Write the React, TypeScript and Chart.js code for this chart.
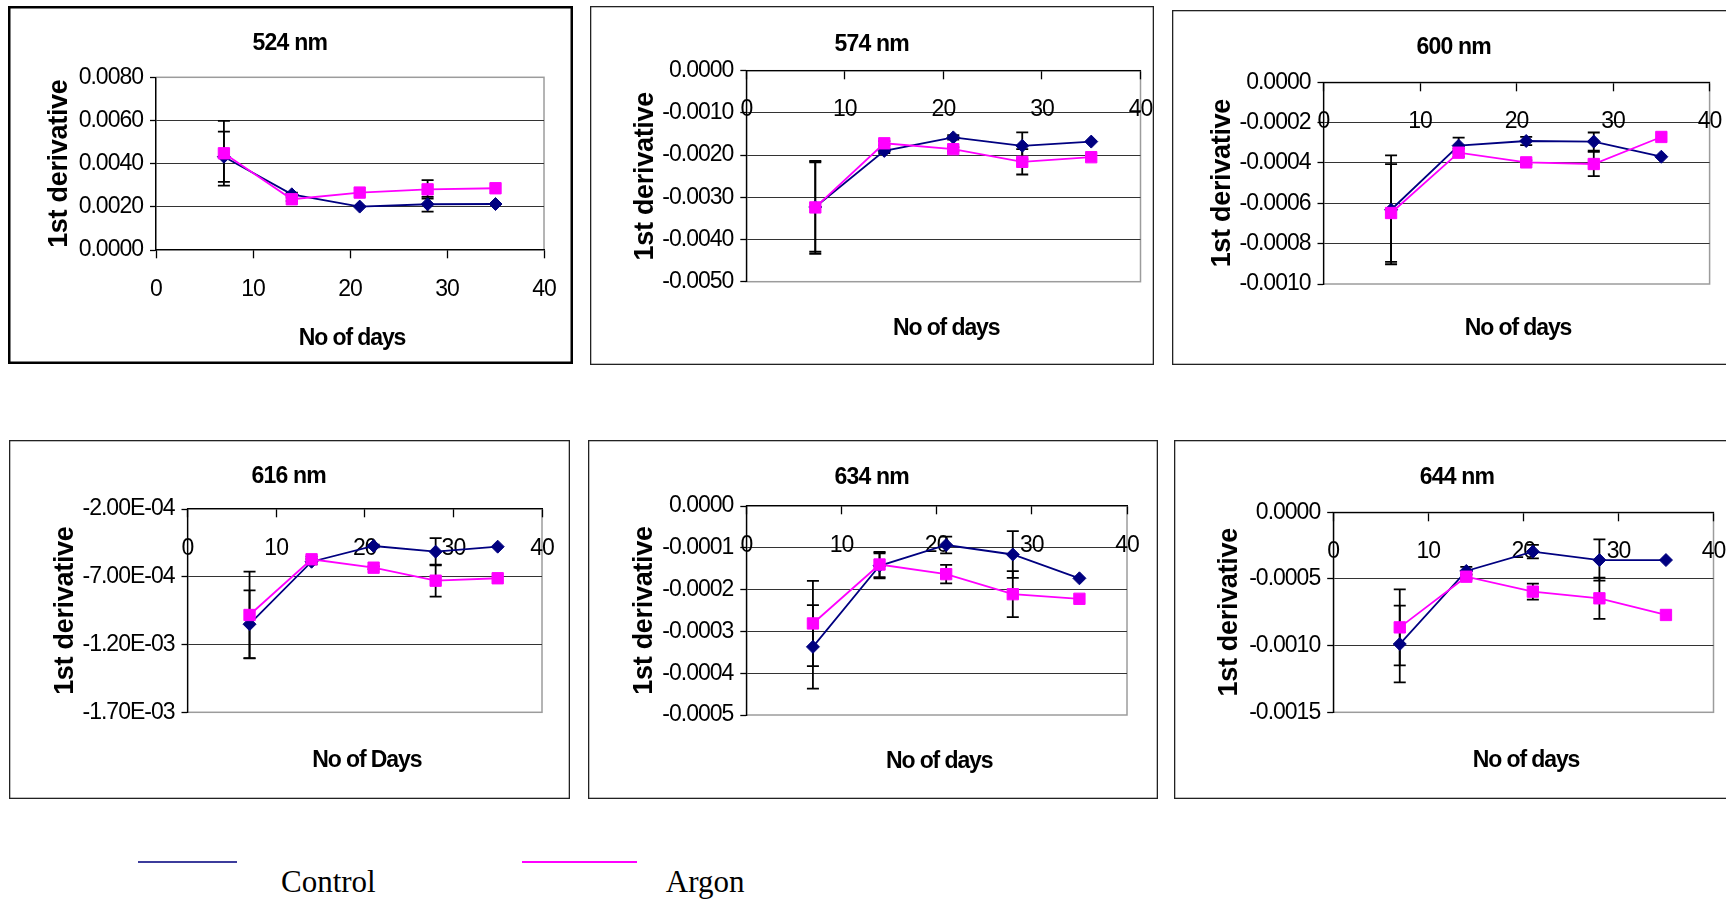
import React, { useEffect, useRef } from "react";
import { Chart, registerables } from "chart.js";

Chart.register(...registerables);

// ---------------- DATA ----------------
const days = [7, 14, 21, 28, 35];
const dayTicks = [0, 10, 20, 30, 40];
const seriesNames = ["Control", "Argon"];
const yAxisTitle = "1st derivative";

// 524 nm
const control524 = [0.00432, 0.00258, 0.00201, 0.00212, 0.00213];
const argon524 = [0.00448, 0.00235, 0.00266, 0.00281, 0.00286];
const controlErr524 = [0.00116, 0.00008, 0, 0.00034, 0];
const argonErr524 = [0.0015, 0.00008, 0, 0.00043, 0];
const yTicks524 = [0, 0.002, 0.004, 0.006, 0.008];

// 574 nm
const control574 = [-0.00323, -0.0019, -0.00158, -0.00178, -0.00168];
const argon574 = [-0.00324, -0.00172, -0.00186, -0.00216, -0.00205];
const controlErr574 = [0.00106, 0.00005, 0.00005, 0.00032, 0];
const argonErr574 = [0.0011, 0.00005, 0.00005, 0.0003, 0];
const yTicks574 = [-0.005, -0.004, -0.003, -0.002, -0.001, 0];

// 600 nm
const control600 = [-0.000632, -0.000314, -0.000291, -0.000294, -0.000369];
const argon600 = [-0.000648, -0.000349, -0.000397, -0.000405, -0.000271];
const controlErr600 = [0.00027, 0.00004, 0.00002, 0.000045, 0];
const argonErr600 = [0.000242, 0.00002, 0.00001, 0.00006, 0];
const yTicks600 = [-0.001, -0.0008, -0.0006, -0.0004, -0.0002, 0];

// 616 nm
const control616 = [-0.00105, -0.000589, -0.000473, -0.000515, -0.000478];
const argon616 = [-0.000982, -0.000571, -0.000633, -0.000729, -0.000711];
const controlErr616 = [0.00025, 0.00002, 0.00001, 0.0001, 0];
const argonErr616 = [0.00032, 0.00002, 0.00001, 0.000118, 0];
const yTicks616 = [-0.0017, -0.0012, -0.0007, -0.0002];

// 634 nm
const control634 = [-0.000337, -0.000143, -0.0000933, -0.000116, -0.000173];
const argon634 = [-0.000281, -0.00014, -0.000163, -0.000211, -0.000222];
const controlErr634 = [0.0001, 0.00003, 0.00002, 0.000056, 0];
const argonErr634 = [0.000102, 0.00003, 0.000022, 0.000055, 0];
const yTicks634 = [-0.0005, -0.0004, -0.0003, -0.0002, -0.0001, 0];

// 644 nm
const control644 = [-0.000988, -0.00044, -0.000295, -0.000358, -0.000358];
const argon644 = [-0.000863, -0.000483, -0.000595, -0.000645, -0.00077];
const controlErr644 = [0.000288, 0.00003, 0.00005, 0.000155, 0];
const argonErr644 = [0.000285, 0.00002, 0.00006, 0.000155, 0];
const yTicks644 = [-0.0015, -0.001, -0.0005, 0];

// ---------------- STYLE / LAYOUT ----------------
const NAVY = "#000080";
const MAGENTA = "#ff00ff";
const SANS = '"Liberation Sans", Arial, sans-serif';
const SERIF = '"Liberation Serif", "Times New Roman", serif';
const TICK_SIZE = 23;
const Y_TITLE_SIZE = 27;

type Box = { l: number; t: number; r: number; b: number };
type Panel = {
  key: string;
  title: string;
  xTitle: string;
  control: number[];
  argon: number[];
  controlErr: number[];
  argonErr: number[];
  yTicks: number[];
  fmt: "fixed" | "exp";
  box: Box;
  plot: Box;
  frameWidth: number;
  frameColor: string;
  titleX: number;
  titleBase: number;
  titleClip: number;
  xTitleCx: number;
  xTitleBase: number;
  yTitleCx: number;
};

const panels: Panel[] = [
  {
    key: "524", title: "524 nm", xTitle: "No of days",
    control: control524, argon: argon524, controlErr: controlErr524, argonErr: argonErr524,
    yTicks: yTicks524, fmt: "fixed",
    box: { l: 8, t: 6, r: 573, b: 364 }, plot: { l: 156, t: 77.3, r: 544, b: 250 },
    frameWidth: 2.5, frameColor: "#000",
    titleX: 252.6, titleBase: 50, titleClip: 333,
    xTitleCx: 352, xTitleBase: 345, yTitleCx: 59.2,
  },
  {
    key: "574", title: "574 nm", xTitle: "No of days",
    control: control574, argon: argon574, controlErr: controlErr574, argonErr: argonErr574,
    yTicks: yTicks574, fmt: "fixed",
    box: { l: 590, t: 6, r: 1154, b: 365 }, plot: { l: 746.3, t: 70.7, r: 1140.5, b: 281.7 },
    frameWidth: 1.3, frameColor: "#222",
    titleX: 834.4, titleBase: 50.7, titleClip: 915,
    xTitleCx: 946.2, xTitleBase: 335, yTitleCx: 645.5,
  },
  {
    key: "600", title: "600 nm", xTitle: "No of days",
    control: control600, argon: argon600, controlErr: controlErr600, argonErr: argonErr600,
    yTicks: yTicks600, fmt: "fixed",
    box: { l: 1172, t: 10, r: 1745, b: 365 }, plot: { l: 1323.5, t: 82.3, r: 1709.6, b: 284 },
    frameWidth: 1.3, frameColor: "#222",
    titleX: 1416.5, titleBase: 54, titleClip: 1499.5,
    xTitleCx: 1518, xTitleBase: 335, yTitleCx: 1222.6,
  },
  {
    key: "616", title: "616 nm", xTitle: "No of Days",
    control: control616, argon: argon616, controlErr: controlErr616, argonErr: argonErr616,
    yTicks: yTicks616, fmt: "exp",
    box: { l: 9, t: 440, r: 570, b: 799 }, plot: { l: 187.5, t: 509, r: 542, b: 712.3 },
    frameWidth: 1.3, frameColor: "#222",
    titleX: 251.5, titleBase: 483.3, titleClip: 331.8,
    xTitleCx: 366.8, xTitleBase: 766.7, yTitleCx: 65.5,
  },
  {
    key: "634", title: "634 nm", xTitle: "No of days",
    control: control634, argon: argon634, controlErr: controlErr634, argonErr: argonErr634,
    yTicks: yTicks634, fmt: "fixed",
    box: { l: 588, t: 440, r: 1158, b: 799 }, plot: { l: 746.3, t: 506, r: 1127, b: 715 },
    frameWidth: 1.3, frameColor: "#222",
    titleX: 834.4, titleBase: 484, titleClip: 916,
    xTitleCx: 939.2, xTitleBase: 768.3, yTitleCx: 644.8,
  },
  {
    key: "644", title: "644 nm", xTitle: "No of days",
    control: control644, argon: argon644, controlErr: controlErr644, argonErr: argonErr644,
    yTicks: yTicks644, fmt: "fixed",
    box: { l: 1174, t: 440, r: 1745, b: 799 }, plot: { l: 1333.2, t: 512.3, r: 1713.5, b: 712.3 },
    frameWidth: 1.3, frameColor: "#222",
    titleX: 1419.7, titleBase: 484, titleClip: 1502,
    xTitleCx: 1526, xTitleBase: 766.7, yTitleCx: 1229.4,
  },
];

function fmtTick(v: number, fmt: "fixed" | "exp"): string {
  if (Math.abs(v) < 1e-12) v = 0;
  if (fmt === "fixed") return v.toFixed(4);
  const [m, e] = v.toExponential(2).split("e");
  const n = parseInt(e, 10);
  return m + "E" + (n < 0 ? "-" : "+") + String(Math.abs(n)).padStart(2, "0");
}

function makePlugin(p: Panel) {
  return {
    id: "frame" + p.key,
    beforeDraw(chart: any) {
      const ctx = chart.ctx;
      const a = chart.chartArea;
      // condensed look of the tick labels
      ctx.letterSpacing = "-1px";
      ctx.save();
      ctx.strokeStyle = "#9c9c9c";
      ctx.lineWidth = 1.5;
      ctx.strokeRect(a.left, a.top, a.right - a.left, a.bottom - a.top);
      ctx.restore();
    },
    beforeDatasetsDraw(chart: any) {
      const ctx = chart.ctx;
      const xs = chart.scales.x;
      const ys = chart.scales.y;
      ctx.save();
      ctx.strokeStyle = "#000";
      ctx.lineWidth = 1.8;
      const groups: [number[], number[]][] = [
        [p.control, p.controlErr],
        [p.argon, p.argonErr],
      ];
      for (const [vals, errs] of groups) {
        vals.forEach((v, i) => {
          const e = errs[i];
          if (!e) return;
          const x = xs.getPixelForValue(days[i]);
          const y1 = ys.getPixelForValue(v + e);
          const y2 = ys.getPixelForValue(v - e);
          ctx.beginPath();
          ctx.moveTo(x, y1);
          ctx.lineTo(x, y2);
          ctx.moveTo(x - 6, y1);
          ctx.lineTo(x + 6, y1);
          ctx.moveTo(x - 6, y2);
          ctx.lineTo(x + 6, y2);
          ctx.stroke();
        });
      }
      ctx.restore();
    },
    afterDraw(chart: any) {
      const ctx = chart.ctx;
      const a = chart.chartArea;
      const ox = p.box.l;
      const oy = p.box.t;
      ctx.save();
      ctx.fillStyle = "#000";
      ctx.textBaseline = "alphabetic";
      // panel title (clipped like the original)
      ctx.font = `bold 23px ${SANS}`;
      ctx.save();
      ctx.beginPath();
      ctx.rect(0, 0, p.titleClip - ox, chart.height);
      ctx.clip();
      ctx.letterSpacing = "-0.8px";
      ctx.textAlign = "left";
      ctx.fillText(p.title, p.titleX - ox, p.titleBase - oy);
      ctx.restore();
      // x axis title
      ctx.letterSpacing = "-1.1px";
      ctx.textAlign = "center";
      ctx.fillText(p.xTitle, p.xTitleCx - ox, p.xTitleBase - oy);
      // y axis title (rotated)
      ctx.save();
      ctx.letterSpacing = "-0.3px";
      ctx.font = `bold ${Y_TITLE_SIZE}px ${SANS}`;
      ctx.translate(p.yTitleCx - ox, (a.top + a.bottom) / 2);
      ctx.rotate(-Math.PI / 2);
      ctx.textAlign = "center";
      ctx.textBaseline = "middle";
      ctx.fillText(yAxisTitle, 0, 0);
      ctx.restore();
      // frame
      ctx.letterSpacing = "0px";
      ctx.strokeStyle = p.frameColor;
      ctx.lineWidth = p.frameWidth;
      const hw = p.frameWidth / 2;
      ctx.strokeRect(hw, hw, chart.width - p.frameWidth, chart.height - p.frameWidth);
      ctx.restore();
    },
  };
}

function PanelChart({ p }: { p: Panel }) {
  const ref = useRef<HTMLCanvasElement>(null);
  const w = p.box.r - p.box.l;
  const h = p.box.b - p.box.t;

  useEffect(() => {
    const canvas = ref.current;
    if (!canvas) return;
    const yMin = p.yTicks[0];
    const yMax = p.yTicks[p.yTicks.length - 1];
    const cross = Math.min(Math.max(0, yMin), yMax);

    const chart = new Chart(canvas, {
      type: "line",
      data: {
        datasets: [
          {
            label: seriesNames[0],
            data: days.map((d, i) => ({ x: d, y: p.control[i] })),
            borderColor: NAVY,
            backgroundColor: NAVY,
            borderWidth: 1.8,
            pointStyle: "rectRot",
            pointRadius: 6.5,
            pointBorderColor: NAVY,
            pointBackgroundColor: NAVY,
            pointBorderWidth: 1,
            tension: 0,
            fill: false,
            order: 1,
          },
          {
            label: seriesNames[1],
            data: days.map((d, i) => ({ x: d, y: p.argon[i] })),
            borderColor: MAGENTA,
            backgroundColor: MAGENTA,
            borderWidth: 1.8,
            pointStyle: "rect",
            pointRadius: 8,
            pointBorderColor: MAGENTA,
            pointBackgroundColor: MAGENTA,
            pointBorderWidth: 1,
            tension: 0,
            fill: false,
            order: 0,
          },
        ],
      },
      options: {
        responsive: false,
        animation: false,
        devicePixelRatio: 1,
        events: [],
        layout: {
          padding: {
            left: 0,
            top: p.plot.t - p.box.t,
            right: p.box.r - p.plot.r,
            bottom: p.box.b - p.plot.b,
          },
        },
        plugins: {
          legend: { display: false },
          tooltip: { enabled: false },
          title: { display: false },
        },
        scales: {
          x: {
            type: "linear",
            min: dayTicks[0],
            max: dayTicks[dayTicks.length - 1],
            position: { y: cross } as any,
            afterBuildTicks: (s: any) => {
              s.ticks = dayTicks.map((v) => ({ value: v }));
            },
            afterFit: (s: any) => {
              s.paddingLeft = 0;
              s.paddingRight = 0;
            },
            ticks: {
              color: "#000",
              font: { family: SANS, size: TICK_SIZE },
              padding: 17.5,
              maxRotation: 0,
              minRotation: 0,
              autoSkip: false,
              callback: (v: any) => String(v),
            },
            grid: {
              drawOnChartArea: false,
              drawTicks: true,
              tickLength: 8,
              tickColor: "#000",
              tickWidth: 1.3,
            },
            border: { display: true, color: "#000", width: 1.3 },
          },
          y: {
            type: "linear",
            position: "left",
            min: yMin,
            max: yMax,
            afterBuildTicks: (s: any) => {
              s.ticks = p.yTicks.map((v) => ({ value: v }));
            },
            afterFit: (s: any) => {
              s.width = p.plot.l - p.box.l;
              s.paddingTop = 0;
              s.paddingBottom = 0;
            },
            ticks: {
              color: "#000",
              font: { family: SANS, size: TICK_SIZE },
              padding: 7,
              autoSkip: false,
              callback: (v: any) => fmtTick(Number(v), p.fmt),
            },
            grid: {
              drawOnChartArea: true,
              color: (c: any) => {
                const v = c.tick ? c.tick.value : null;
                if (v === null || v === undefined) return "rgba(0,0,0,0)";
                if (Math.abs(v - yMin) < 1e-10 || Math.abs(v - yMax) < 1e-10) return "rgba(0,0,0,0)";
                return "#333";
              },
              lineWidth: 1,
              tickLength: 6,
              tickColor: "#000",
              tickWidth: 1.3,
            },
            border: { display: true, color: "#000", width: 1.3 },
            title: { display: false },
          },
        },
      },
      plugins: [makePlugin(p)],
    } as any);

    return () => chart.destroy();
  }, []);

  return (
    <canvas
      ref={ref}
      width={w}
      height={h}
      style={{ position: "absolute", left: p.box.l, top: p.box.t, width: w, height: h }}
    />
  );
}

export default function App() {
  return (
    <div
      style={{
        position: "absolute",
        left: 0,
        top: 0,
        width: 1726,
        height: 900,
        overflow: "hidden",
        background: "#fff",
      }}
    >
      {panels.map((p) => (
        <PanelChart key={p.key} p={p} />
      ))}
      {/* legend */}
      <div style={{ position: "absolute", left: 138, top: 860.7, width: 98.5, height: 2, background: "#3c3c9c" }} />
      <div
        style={{
          position: "absolute",
          left: 281,
          top: 866,
          font: `31px ${SERIF}`,
          lineHeight: "31px",
          whiteSpace: "nowrap",
          color: "#000",
        }}
      >
        {seriesNames[0]}
      </div>
      <div style={{ position: "absolute", left: 522.3, top: 861.3, width: 114.7, height: 2, background: MAGENTA }} />
      <div
        style={{
          position: "absolute",
          left: 665.8,
          top: 866,
          font: `31px ${SERIF}`,
          lineHeight: "31px",
          whiteSpace: "nowrap",
          color: "#000",
        }}
      >
        {seriesNames[1]}
      </div>
    </div>
  );
}
